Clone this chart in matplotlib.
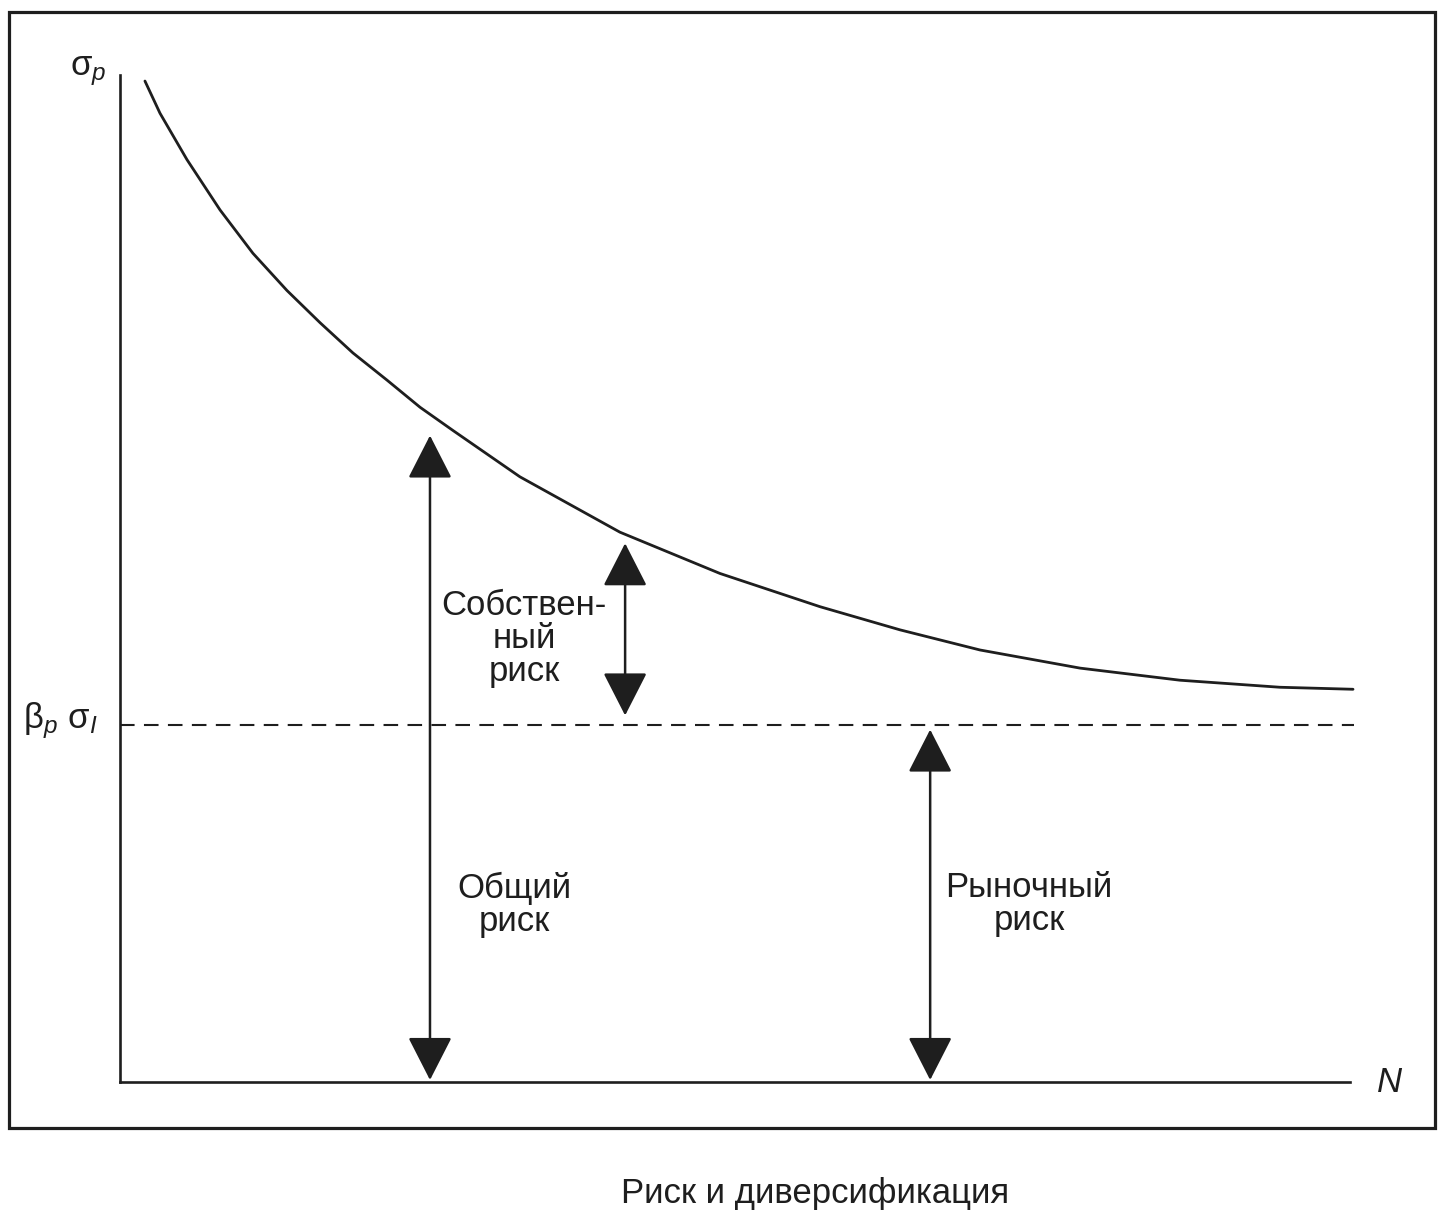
import matplotlib.pyplot as plt
from matplotlib.patches import Rectangle

plt.rcParams['font.family'] = ['Liberation Sans', 'DejaVu Sans']
plt.rcParams['mathtext.fontset'] = 'custom'
plt.rcParams['mathtext.rm'] = 'Liberation Sans'
plt.rcParams['mathtext.it'] = 'Liberation Sans:italic'

# риск портфеля в зависимости от числа бумаг N
n_vals = [1.01, 1.62, 2.71, 4.05, 5.38, 6.76, 8.10, 9.43, 10.81, 12.15, 13.48,
          16.19, 20.24, 24.29, 28.34, 31.58, 34.82, 38.87, 42.91, 46.96, 49.92]
sigma_vals = [99.4, 96.2, 91.6, 86.6, 82.3, 78.6, 75.4, 72.4, 69.7, 67.0, 64.7,
              60.1, 54.6, 50.5, 47.2, 44.9, 42.9, 41.1, 39.9, 39.2, 39.0]
market_level = 35.45

# стрелки: (N, низ, верх)
arrows = [(12.55, 0.2, 64.2), (20.45, 36.4, 53.5), (32.8, 0.2, 35.0)]

ink = '#1e1e1e'

fig = plt.figure(figsize=(14.53, 12.27), dpi=100)
W, H = 1453, 1227

# рамка вокруг рисунка
fig.patches.append(Rectangle((9 / W, 1 - 1128 / H), (1435 - 9) / W, (1128 - 12) / H,
                             transform=fig.transFigure, fill=False, lw=2.3, ec=ink))

ax = fig.add_axes([120 / W, 1 - 1082 / H, (1355 - 120) / W, (1082 - 75) / H])
ax.set_xlim(0, 50)
ax.set_ylim(0, 100)
ax.patch.set_alpha(0)
ax.spines[['top', 'right']].set_visible(False)
for s in ['left', 'bottom']:
    ax.spines[s].set_linewidth(1.9)
    ax.spines[s].set_color(ink)
ax.spines['bottom'].set_bounds(0, 49.8)
ax.set_xticks([])
ax.set_yticks([])

ax.plot(n_vals, sigma_vals, color=ink, lw=2.0, clip_on=False,
        solid_joinstyle='round', solid_capstyle='round')
ax.plot([0, 49.95], [market_level, market_level], color=ink, lw=1.5,
        dashes=(7, 4.5), clip_on=False)

for x, lo, hi in arrows:
    ax.annotate('', xy=(x, hi), xytext=(x, lo),
                arrowprops=dict(arrowstyle='<|-|>,head_length=1.37,head_width=0.7',
                                mutation_scale=20, lw=1.8, color=ink,
                                shrinkA=0, shrinkB=0))

fs = 25
ax.text(16.35, 44.0, 'Собствен-\nный\nриск', ha='center', va='center',
        fontsize=fs, linespacing=1.0, color=ink)
ax.text(15.95, 17.6, 'Общий\nриск', ha='center', va='center',
        fontsize=fs, linespacing=1.0, color=ink)
ax.text(36.8, 17.7, 'Рыночный\nриск', ha='center', va='center',
        fontsize=fs, linespacing=1.0, color=ink)

ax.text(-0.55, 100.0, 'σ$_p$', ha='right', va='baseline', fontsize=fs, color=ink)
ax.text(-0.9, 35.15, 'β$_p$ σ$_I$', ha='right', va='baseline', fontsize=fs, color=ink)
ax.text(51.4, 0, 'N', ha='center', va='center', fontsize=fs, style='italic', color=ink)

fig.text(815 / W, 1 - 1193 / H, 'Риск и диверсификация', ha='center', va='center',
         fontsize=fs, color=ink)

fig.savefig('out.png', dpi=100)
